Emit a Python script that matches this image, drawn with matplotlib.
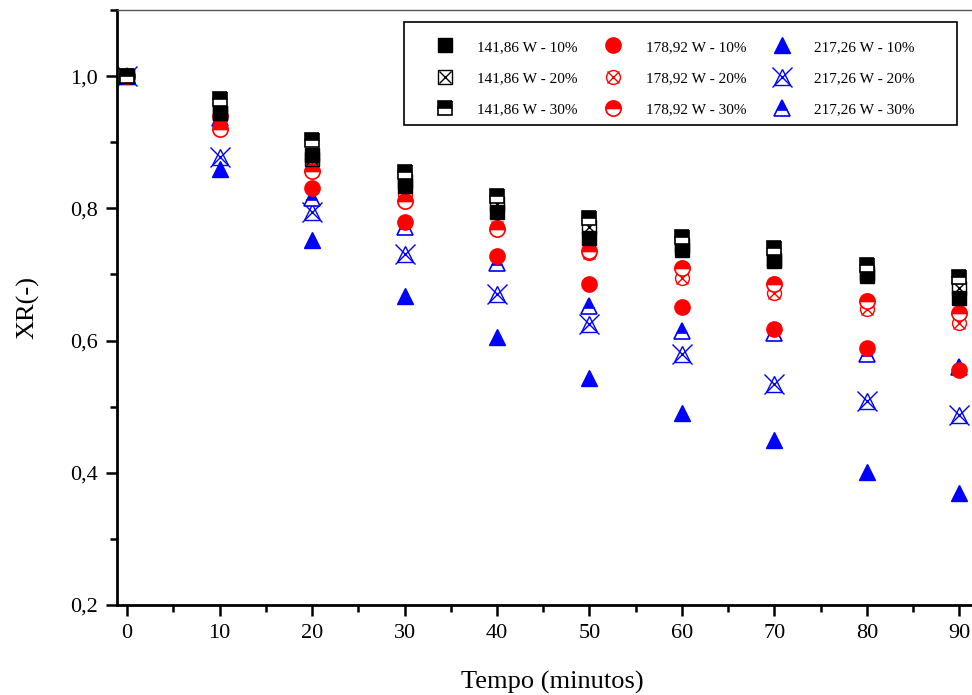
import matplotlib

matplotlib.use("Agg")
import matplotlib.pyplot as plt
from matplotlib.legend_handler import HandlerTuple
from matplotlib.patches import Rectangle
from matplotlib.ticker import MultipleLocator, FuncFormatter

plt.rcParams["font.family"] = ["Liberation Serif", "DejaVu Serif"]

tempo = [0, 10, 20, 30, 40, 50, 60, 70, 80, 90]

# 141,86 W
p141_10 = [1.0, 0.944, 0.880, 0.834, 0.795, 0.755, 0.737, 0.720, 0.697, 0.665]
p141_20 = [1.0, 0.944, 0.875, 0.842, 0.806, 0.772, 0.745, 0.722, 0.702, 0.680]
p141_30 = [1.0, 0.965, 0.903, 0.855, 0.818, 0.786, 0.757, 0.740, 0.714, 0.696]
# 178,92 W
p178_10 = [1.0, 0.940, 0.831, 0.780, 0.728, 0.686, 0.651, 0.618, 0.588, 0.555]
p178_20 = [1.0, 0.935, 0.875, 0.822, 0.772, 0.732, 0.695, 0.672, 0.647, 0.627]
p178_30 = [1.0, 0.920, 0.857, 0.811, 0.769, 0.736, 0.710, 0.686, 0.660, 0.642]
# 217,26 W
p217_10 = [1.0, 0.860, 0.752, 0.668, 0.605, 0.543, 0.491, 0.449, 0.401, 0.370]
p217_20 = [1.0, 0.877, 0.794, 0.731, 0.671, 0.625, 0.580, 0.535, 0.509, 0.487]
p217_30 = [1.0, 0.937, 0.816, 0.772, 0.718, 0.653, 0.615, 0.611, 0.580, 0.560]

labels = ["141,86 W - 10%", "141,86 W - 20%", "141,86 W - 30%",
          "178,92 W - 10%", "178,92 W - 20%", "178,92 W - 30%",
          "217,26 W - 10%", "217,26 W - 20%", "217,26 W - 30%"]

W, H = 972, 695
fig = plt.figure(figsize=(W / 100, H / 100), dpi=100)
ax = fig.add_axes([117 / W, 90 / H, 0.895, 595 / H])

MS = 10


def cheio(x, y, cor, m, ms=MS):
    return ax.plot(x, y, ls="none", marker=m, ms=ms, color=cor,
                   markeredgecolor=cor)[0]


def meio(x, y, cor, m, ms=MS):
    return ax.plot(x, y, ls="none", marker=m, ms=ms, color=cor,
                   fillstyle="top", markerfacecoloralt="white",
                   markeredgecolor=cor, markeredgewidth=1.2)[0]


def cruz(x, y, cor, m, ms=MS, xs=MS * 0.8):
    a = ax.plot(x, y, ls="none", marker=m, ms=ms, markerfacecolor="none",
                markeredgecolor=cor, markeredgewidth=1.0)[0]
    b = ax.plot(x, y, ls="none", marker="x", ms=xs, color=cor,
                markeredgewidth=1.0)[0]
    return (a, b)


h = [None] * 9
# ordem de desenho: azul por baixo, preto por cima
h[6] = cheio(tempo, p217_10, "blue", "^", 12)
h[7] = cruz(tempo, p217_20, "blue", "^", 12, 15)
h[8] = meio(tempo, p217_30, "blue", "^", 12)
h[3] = cheio(tempo, p178_10, "red", "o", 11)
h[4] = cruz(tempo, p178_20, "red", "o", 10, 8)
h[5] = meio(tempo, p178_30, "red", "o", 11)
h[0] = cheio(tempo, p141_10, "black", "s")
h[1] = cruz(tempo, p141_20, "black", "s", 10, 8)
h[2] = meio(tempo, p141_30, "black", "s")

ax.set_xlim(-1.1, 93)
ax.set_ylim(0.2, 1.1)
ax.xaxis.set_major_locator(MultipleLocator(10))
ax.xaxis.set_minor_locator(MultipleLocator(5))
ax.yaxis.set_major_locator(MultipleLocator(0.2))
ax.yaxis.set_minor_locator(MultipleLocator(0.1))
ax.yaxis.set_major_formatter(FuncFormatter(lambda v, p: f"{v:.1f}".replace(".", ",")))
ax.set_xticks(tempo)

ax.tick_params(which="major", direction="out", length=8, width=1.8, labelsize=16, pad=6)
ax.tick_params(which="minor", direction="out", length=5, width=1.8)
ax.tick_params(top=False, right=False, which="both")

for s in ("left", "bottom"):
    ax.spines[s].set_linewidth(2)
ax.spines["top"].set_linewidth(1)
ax.spines["top"].set_color("#555555")
ax.spines["right"].set_visible(False)

ax.set_xlabel("Tempo (minutos)", fontsize=19, labelpad=20)
ax.set_ylabel("XR(-)", fontsize=19, labelpad=22)

# moldura da legenda desenhada à parte (caixa mais larga que o conteúdo)
ax.add_patch(Rectangle((404 / W, 1 - 125 / H), 553 / W, 103 / H,
                       transform=fig.transFigure, clip_on=False,
                       facecolor="white", edgecolor="black", lw=1.2, zorder=8))
leg = ax.legend(h, labels, ncol=3, loc="upper left",
                bbox_to_anchor=(419 / W, 1 - 40 / H), bbox_transform=fig.transFigure,
                handler_map={tuple: HandlerTuple(ndivide=1, pad=0)},
                fontsize=11, frameon=False,
                handlelength=3.4, handletextpad=0.4, columnspacing=0.65,
                labelspacing=1.16, borderpad=0, borderaxespad=0)
leg.set_zorder(9)

fig.savefig("out.png", dpi=100)
